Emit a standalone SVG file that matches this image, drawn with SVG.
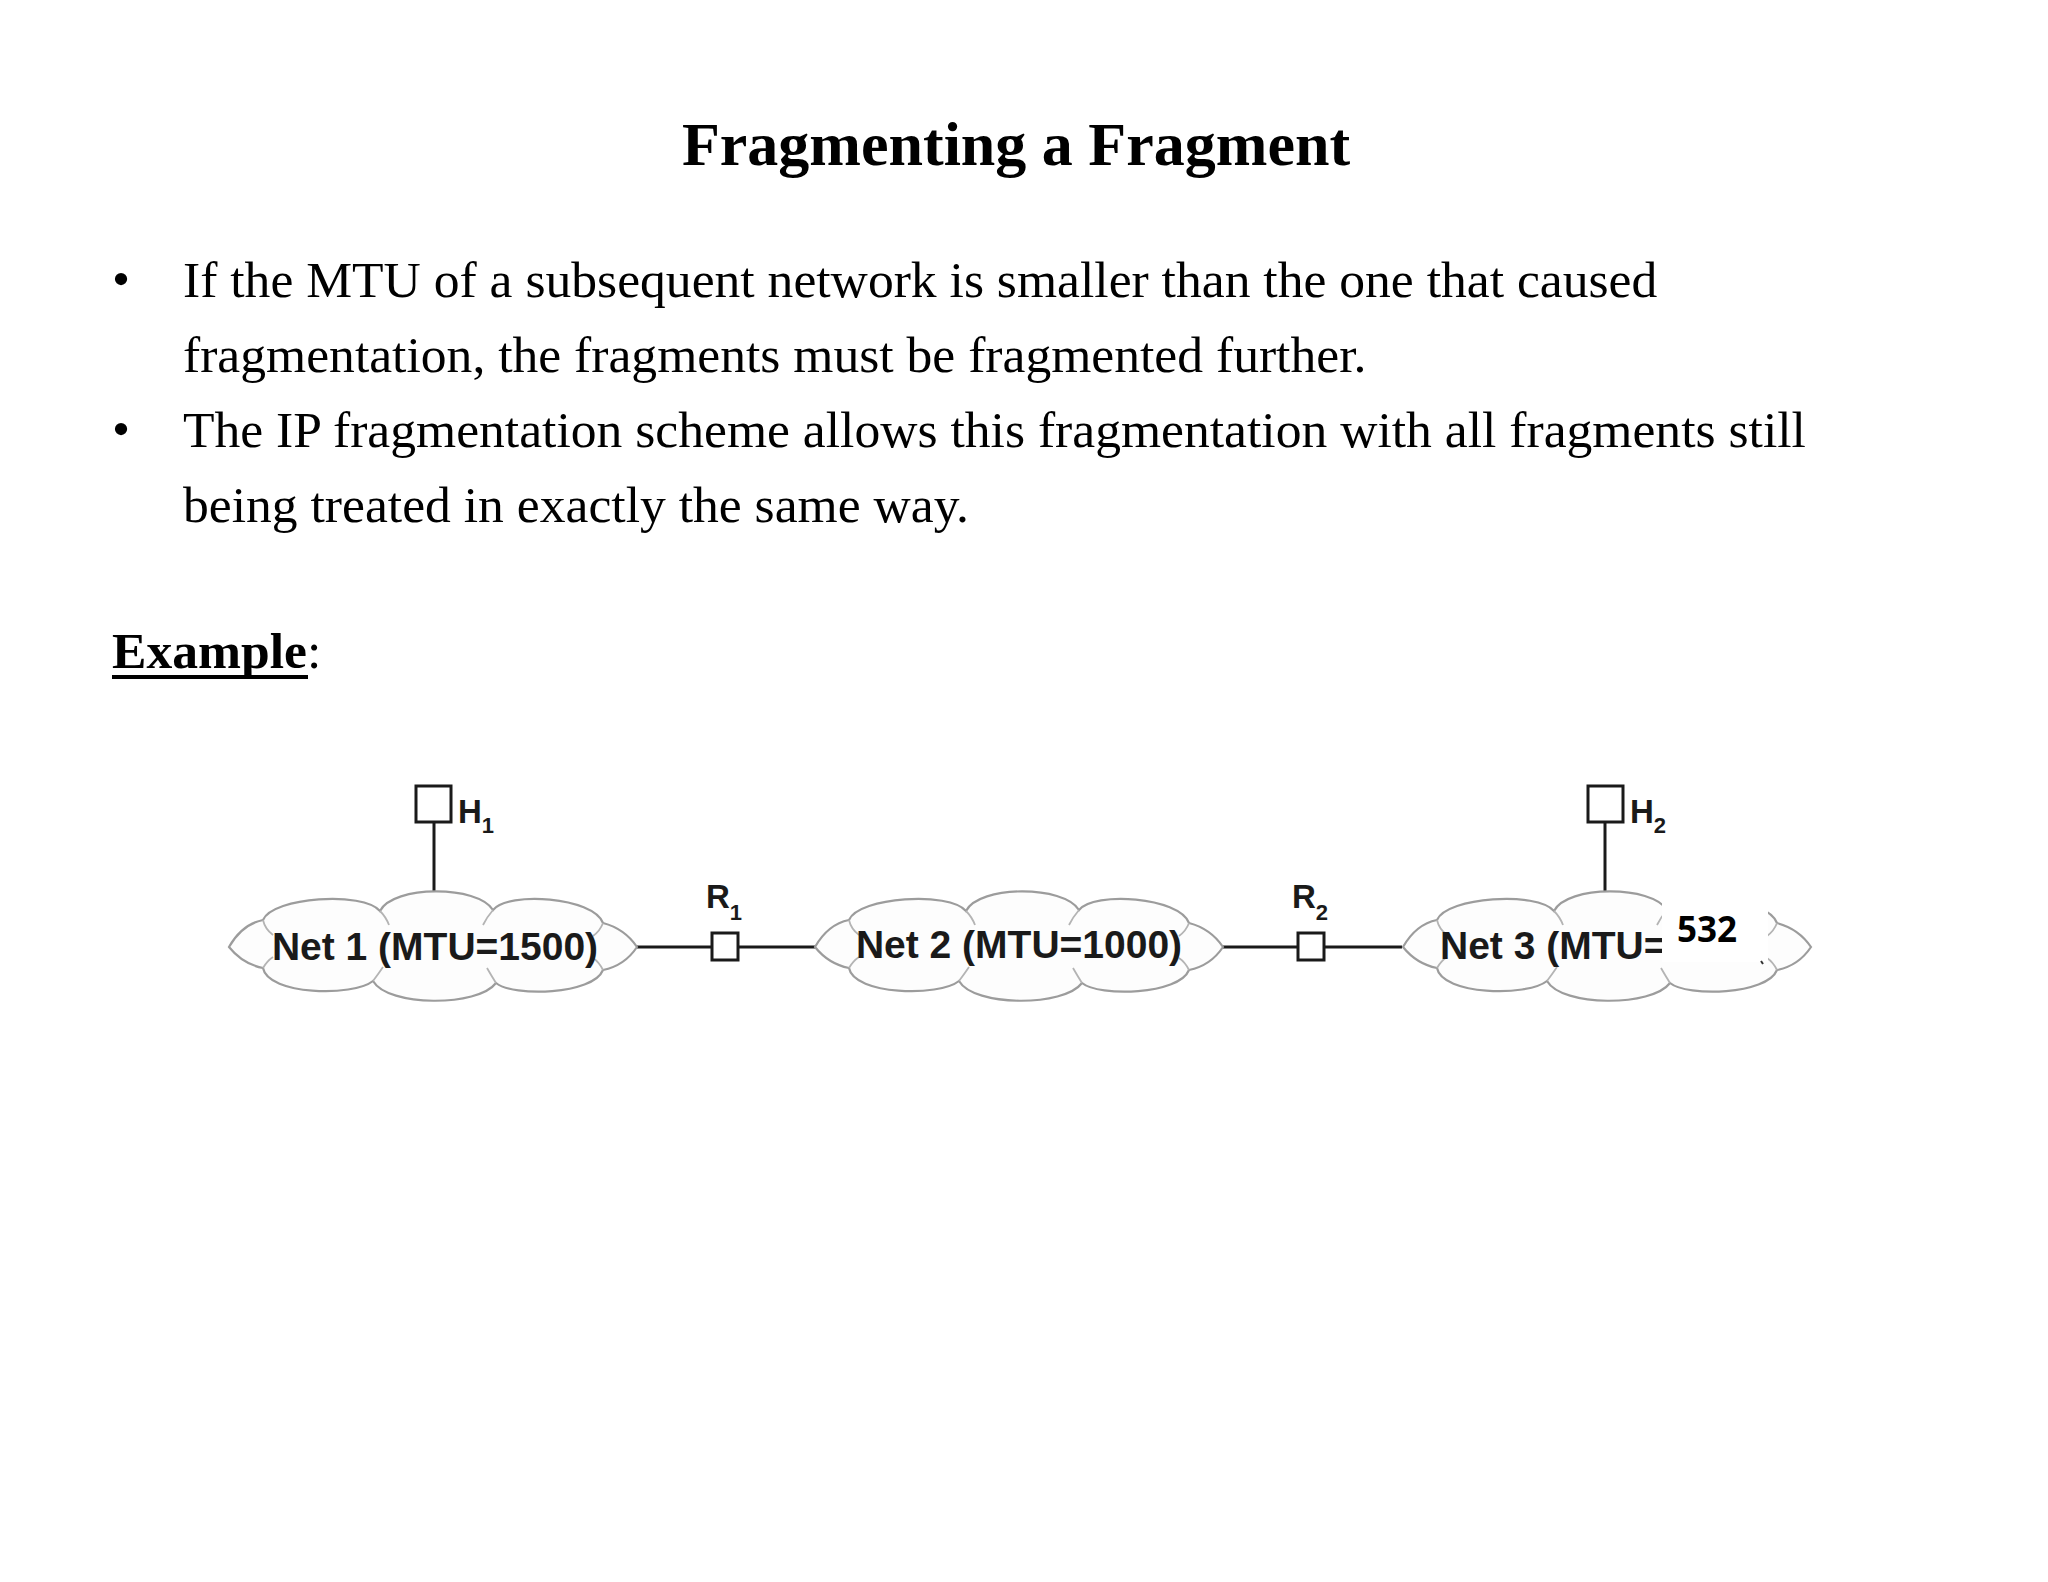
<svg xmlns="http://www.w3.org/2000/svg" width="2048" height="1582" viewBox="0 0 2048 1582">
<style>
.title{font-family:"Liberation Serif","Times New Roman",serif;font-weight:bold;font-size:62px;fill:#000}
.body{font-family:"Liberation Serif","Times New Roman",serif;font-size:51.6px;fill:#000}
.bold{font-weight:bold}
.lbl{font-family:"Liberation Sans",Arial,sans-serif;font-weight:bold;font-size:39px;fill:#1a1a1a}
.nl{font-family:"Liberation Sans",Arial,sans-serif;font-weight:bold;font-size:33px;fill:#1a1a1a}
.sub{font-family:"Liberation Sans",Arial,sans-serif;font-weight:bold;font-size:22px;fill:#1a1a1a}
.cloud{fill:#fdfdfd;stroke:#9c9c9c;stroke-width:2.2}
.inner{fill:none;stroke:#b4b4b4;stroke-width:1.8}
.wire{stroke:#1a1a1a;stroke-width:3;fill:none}
.box{fill:#fff;stroke:#1a1a1a;stroke-width:3}
.num{font-family:"Open Sans","Noto Sans",sans-serif;font-weight:bold;font-size:35px;fill:#000}
</style>
<defs>
<path id="cloudShape" d="M -204,0 C -196,-14 -185,-24 -170,-27 C -160,-50 -70,-56 -53,-36 C -40,-62 45,-62 60,-37 C 75,-56 160,-50 170,-24 C 185,-20 196,-12 204,0 C 196,12 185,20 170,23 C 160,48 80,50 63,36 C 45,60 -45,60 -60,34 C -80,50 -165,48 -170,21 C -185,18 -196,10 -204,0 Z"/>
<g id="cloudInner">
<path class="inner" d="M -53,-36 Q -47,-30 -44,-22"/>
<path class="inner" d="M 60,-37 Q 54,-30 50,-22"/>
<path class="inner" d="M -170,-27 Q -168,-18 -160,-12"/>
<path class="inner" d="M 170,-24 Q 167,-16 160,-11"/>
<path class="inner" d="M -60,34 Q -54,26 -50,20"/>
<path class="inner" d="M 63,36 Q 58,28 54,21"/>
<path class="inner" d="M -170,21 Q -166,14 -160,10"/>
<path class="inner" d="M 170,23 Q 166,15 160,11"/>
</g>
</defs>
<rect width="2048" height="1582" fill="#fff"/>

<text class="title" x="1016" y="165" text-anchor="middle">Fragmenting a Fragment</text>

<g id="bullets">
<text class="body" x="121" y="296" text-anchor="middle">•</text>
<text class="body" x="183" y="297">If the MTU of a subsequent network is smaller than the one that caused</text>
<text class="body" x="183" y="372">fragmentation, the fragments must be fragmented further.</text>
<text class="body" x="121" y="446" text-anchor="middle">•</text>
<text class="body" x="183" y="447">The IP fragmentation scheme allows this fragmentation with all fragments still</text>
<text class="body" x="183" y="522">being treated in exactly the same way.</text>
</g>

<g id="example-label">
<text class="body" x="112" y="668"><tspan class="bold">Example</tspan>:</text>
<rect x="112" y="675" width="196" height="4" fill="#000"/>
</g>

<g id="connectors">
<line class="wire" x1="434" y1="822" x2="434" y2="894"/>
<line class="wire" x1="1605" y1="822" x2="1605" y2="894"/>
<line class="wire" x1="637" y1="947" x2="712" y2="947"/>
<line class="wire" x1="738" y1="947" x2="815" y2="947"/>
<line class="wire" x1="1223" y1="947" x2="1298" y2="947"/>
<line class="wire" x1="1325" y1="947" x2="1402" y2="947"/>
</g>

<g id="net1" transform="translate(433,947)">
<use href="#cloudShape" class="cloud"/>
<use href="#cloudInner"/>
<text class="lbl" x="2" y="13" text-anchor="middle">Net 1 (MTU=1500)</text>
</g>

<g id="net2" transform="translate(1019,947)">
<use href="#cloudShape" class="cloud"/>
<use href="#cloudInner"/>
<text class="lbl" x="0" y="11" text-anchor="middle">Net 2 (MTU=1000)</text>
</g>

<g id="net3" transform="translate(1607,947)">
<use href="#cloudShape" class="cloud"/>
<use href="#cloudInner"/>
<text class="lbl" x="-167" y="12">Net 3 (MTU=</text>
</g>

<g id="h1">
<rect class="box" x="416" y="786" width="35" height="36"/>
<text class="nl" x="458" y="823">H<tspan class="sub" dy="10">1</tspan></text>
</g>

<g id="h2">
<rect class="box" x="1588" y="786" width="35" height="36"/>
<text class="nl" x="1630" y="823">H<tspan class="sub" dy="10">2</tspan></text>
</g>

<g id="r1">
<rect class="box" x="712" y="933" width="26" height="27"/>
<text class="nl" x="706" y="908">R<tspan class="sub" dy="12">1</tspan></text>
</g>

<g id="r2">
<rect class="box" x="1298" y="933" width="26" height="27"/>
<text class="nl" x="1292" y="908">R<tspan class="sub" dy="12">2</tspan></text>
</g>

<g id="label-532">
<rect x="1662" y="891" width="106" height="71" fill="#fff"/>
<text class="num" x="1677" y="942">532</text>
<path d="M1761,961 l2,3" stroke="#333" stroke-width="2"/>
</g>
</svg>
